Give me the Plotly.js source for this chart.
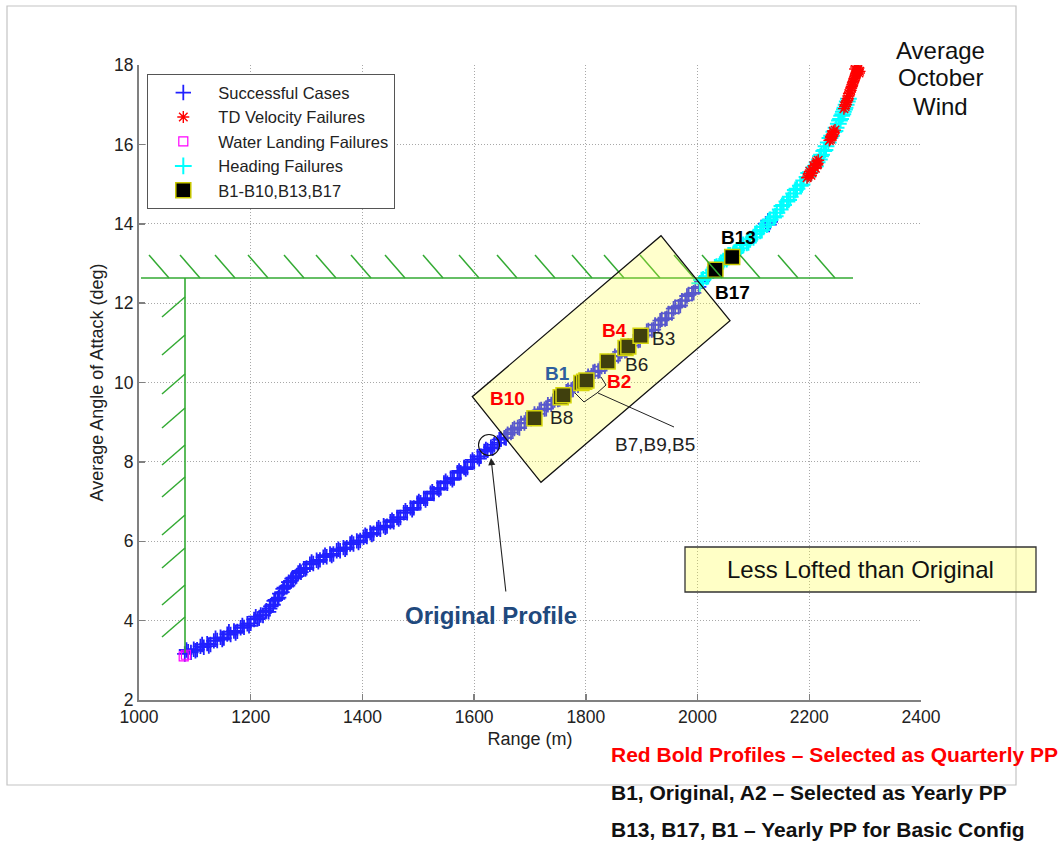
<!DOCTYPE html>
<html><head><meta charset="utf-8">
<script src="https://cdn.plot.ly/plotly-3.0.1.min.js"></script>
<style>html,body{margin:0;padding:0;background:#fff}</style>
</head><body><div id="chart" style="width:1060px;height:841px"></div>
<script>
// ---------- data ----------
const succX=[1082,1088,1093,1098,1104,1110,1116,1122,1128,1134,1140,1146,1152,1158,1164,1170,1176,1182,1188,1194,1200,1206,1212,1218,1222,1228,1232,1236,1240,1244,1248,1252,1256,1260,1264,1268,1272,1276,1280,1285,1290,1295,1300,1306,1312,1318,1324,1330,1336,1342,1348,1354,1360,1366,1372,1378,1384,1390,1396,1402,1408,1414,1420,1426,1432,1438,1444,1450,1456,1462,1468,1474,1480,1486,1492,1498,1504,1510,1516,1522,1528,1534,1540,1546,1552,1558,1564,1570,1576,1582,1588,1594,1600,1606,1612,1618,1624,1630,1636,1642,1648,1654,1660,1666,1672,1678,1684,1690,1696,1702,1708,1714,1720,1726,1732,1738,1744,1750,1756,1762,1768,1774,1780,1786,1792,1798,1804,1810,1816,1822,1828,1834,1840,1846,1852,1858,1864,1870,1876,1882,1888,1894,1900,1906,1912,1918,1924,1930,1936,1942,1948,1954,1960,1966,1972,1978,1984,1990,1996,2002,2008,2122,2126,2130,2128,
 1085,1101,1113,1125,1137,1149,1161,1173,1185,1197,1209,1215,1226,1234,1242,1250,1258,1266,1274,1282,1288,1298,1309,1321,1333,1345,1357,1369,1381,1393,1405,1417,1429,1441,1453,1465,1477,1489,1501,1513,1525,1537,1549,1561,1573,1585,1597,1609,1621,1633,1645,1657,1669,1681,1693,1705,1717,1729,1741,1753,1765,1777,1789,1801,1813,1825,1837,1849,1861,1873,1885,1897,1909,1921,1933,1945,1957,1969,1981,1993];
const succY=[3.16,3.22,3.20,3.28,3.27,3.35,3.33,3.42,3.40,3.49,3.50,3.58,3.56,3.66,3.65,3.74,3.73,3.82,3.83,3.92,3.93,4.03,4.04,4.14,4.13,4.25,4.22,4.36,4.40,4.52,4.55,4.68,4.72,4.83,4.86,4.97,5.00,5.08,5.10,5.20,5.22,5.31,5.33,5.42,5.44,5.52,5.53,5.60,5.61,5.68,5.68,5.76,5.76,5.84,5.84,5.93,5.93,6.01,6.02,6.10,6.12,6.21,6.20,6.30,6.30,6.39,6.38,6.49,6.49,6.60,6.60,6.72,6.72,6.84,6.84,6.96,6.97,7.08,7.08,7.21,7.20,7.34,7.34,7.47,7.46,7.59,7.59,7.73,7.73,7.86,7.86,8.00,8.00,8.13,8.14,8.26,8.29,8.37,8.43,8.48,8.57,8.61,8.70,8.74,8.84,8.87,8.97,8.98,9.09,9.09,9.21,9.21,9.32,9.33,9.44,9.45,9.56,9.57,9.68,9.69,9.80,9.81,9.92,9.93,10.04,10.05,10.16,10.17,10.28,10.29,10.40,10.41,10.53,10.54,10.66,10.67,10.79,10.80,10.92,10.93,11.05,11.06,11.18,11.19,11.31,11.32,11.45,11.46,11.59,11.60,11.74,11.75,11.90,11.91,12.06,12.07,12.22,12.24,12.38,12.41,12.55,14.00,14.08,14.05,13.98,
 3.26,3.24,3.40,3.36,3.56,3.52,3.72,3.69,3.88,3.87,4.10,4.06,4.22,4.30,4.50,4.58,4.80,4.88,5.06,5.12,5.25,5.30,5.48,5.48,5.65,5.64,5.80,5.80,5.97,5.97,6.15,6.17,6.34,6.35,6.53,6.56,6.77,6.79,7.00,7.04,7.25,7.30,7.51,7.55,7.77,7.82,8.05,8.08,8.31,8.34,8.56,8.60,8.81,8.85,9.06,9.10,9.30,9.34,9.53,9.58,9.77,9.82,10.01,10.06,10.26,10.30,10.51,10.55,10.77,10.81,11.03,11.07,11.29,11.33,11.56,11.62,11.86,11.94,12.18,12.26];

const headX=[2004,2010,2016,2022,2028,2034,2040,2046,2052,2058,2064,2070,2076,2082,2088,2094,2100,2106,2112,2118,2124,2130,2136,2142,2148,2154,2160,2166,2172,2178,2184,2190,2196,2202,2208,2214,2218,2222,2226,2230,2234,2240,2244,2248,2252,2256,2258,2261,2264,2266,2268,2270,
 2007,2019,2031,2043,2055,2067,2079,2091,2103,2115,2127,2139,2151,2163,2175,2187,2199,2211,2220,2228,2237,2246,2254,2260,2263];
const headY=[12.50,12.60,12.66,12.76,12.82,12.92,12.97,13.06,13.11,13.20,13.24,13.33,13.38,13.47,13.52,13.61,13.66,13.76,13.82,13.92,13.98,14.10,14.16,14.28,14.36,14.47,14.56,14.68,14.76,14.88,14.96,15.09,15.18,15.30,15.42,15.55,15.62,15.74,15.83,15.95,16.05,16.22,16.32,16.42,16.52,16.64,16.72,16.82,16.92,17.00,17.08,17.15,
 12.58,12.68,12.90,12.98,13.20,13.26,13.46,13.53,13.74,13.84,14.06,14.19,14.45,14.60,14.85,14.99,15.28,15.45,15.70,15.86,16.16,16.34,16.60,16.76,16.88];

const tdX=[2196,2200,2203,2206,2209,2212,2214,2236,2239,2242,2244,2262,2265,2268,2270,2273,2275,2277,2279,2281,2283,2285,2287,2282,2289,
 2198,2201,2205,2208,2211,2213,2215,2216,2238,2240,2241,2243,2246,2264,2266,2269,2271,2274,2276,2278,2280,2282,2284,2286,2288,2284,2290];
const tdY=[15.16,15.26,15.22,15.36,15.42,15.50,15.48,16.10,16.18,16.25,16.30,16.90,17.00,17.10,17.22,17.32,17.42,17.50,17.58,17.66,17.74,17.82,17.88,17.90,17.80,
 15.20,15.32,15.28,15.46,15.40,15.56,15.52,15.60,16.13,16.24,16.20,16.33,16.36,16.95,17.06,17.15,17.28,17.36,17.46,17.55,17.62,17.70,17.78,17.86,17.92,17.95,17.84];

const waterX=[1080,1084];
const waterY=[3.10,3.14];

const bNames=["B10","B8","B1","B7","B9","B5","B2","B6","B4","B3","B17","B13"];
const bX=[1708,1755,1760,1792,1797,1801,1839,1871,1876,1898,2032,2062];
const bY=[9.10,9.63,9.68,9.99,10.02,10.05,10.53,10.87,10.91,11.18,12.84,13.16];

const xTicks=[1000,1200,1400,1600,1800,2000,2200,2400];
const yTicks=[2,4,6,8,10,12,14,16,18];

// ---------- geometry helpers (pixel -> axis units) ----------
const L=139,R=921,T=65,B=700,X0=1000,X1=2400,Y0=2,Y1=18;
const px2x=p=>X0+(p-L)*(X1-X0)/(R-L);
const px2y=p=>Y0+(B-p)*(Y1-Y0)/(B-T);
const pxX=p=>(p-L)/(R-L);       // paper x
const pxY=p=>(B-p)/(B-T);       // paper y
const FONT="Liberation Sans, Arial, Helvetica, sans-serif";
const GREEN="#33aa33";

const traces=[
 {type:'scatter',mode:'markers',name:'Successful Cases',x:succX,y:succY,legendrank:1,
  marker:{symbol:'cross-thin-open',size:11,color:'#2020ff',line:{color:'#2020ff',width:1.8}}},
 {type:'scatter',mode:'markers',name:'Heading Failures',x:headX,y:headY,legendrank:4,
  marker:{symbol:'cross-thin-open',size:12,color:'#00ffff',line:{color:'#00f0f0',width:2}}},
 {type:'scatter',mode:'markers',name:'TD Velocity Failures',x:tdX,y:tdY,legendrank:2,
  marker:{symbol:'asterisk-open',size:10,color:'#ff0000',line:{color:'#ff0000',width:1.4}}},
 {type:'scatter',mode:'markers',name:'Water Landing Failures',x:waterX,y:waterY,legendrank:3,
  marker:{symbol:'square-open',size:9,color:'#ff00ff',line:{color:'#ff00ff',width:1.2}}},
 {type:'scatter',mode:'markers',name:'B1-B10,B13,B17',x:bX,y:bY,text:bNames,hoverinfo:'text',legendrank:5,
  marker:{symbol:'square',size:15,color:'#000000',line:{color:'#c8c800',width:1.5}}}
];
const shapes=[];
// outer frame
shapes.push({type:'rect',xref:'paper',yref:'paper',x0:pxX(7),x1:pxX(1016),y0:pxY(785),y1:pxY(6),
  line:{color:'#c4c4c4',width:1.2},fillcolor:'rgba(0,0,0,0)',layer:'below'});
// green constraint lines
const yLim=px2y(278), xLim=px2x(185);
shapes.push({type:'line',x0:px2x(141),x1:px2x(853),y0:yLim,y1:yLim,line:{color:GREEN,width:1.6},layer:'above'});
shapes.push({type:'line',x0:xLim,x1:xLim,y0:px2y(653),y1:yLim,line:{color:GREEN,width:1.6},layer:'above'});
const hatchH=[169,200,235,268,304,336,371,405,443,479,517,555,592,624,660,694,722,760,798,835];
hatchH.forEach(p=>shapes.push({type:'line',x0:px2x(p),y0:yLim,x1:px2x(p-20),y1:px2y(278-23),
  line:{color:GREEN,width:1.5},layer:'above'}));
const hatchV=[297,335,374,408,445,477,515,548,585,617];
hatchV.forEach(p=>shapes.push({type:'line',x0:xLim,y0:px2y(p),x1:px2x(185-23),y1:px2y(p+20),
  line:{color:GREEN,width:1.5},layer:'above'}));
// rotated yellow box
const boxPath=`M ${px2x(661)},${px2y(235.7)} L ${px2x(730)},${px2y(320.7)} L ${px2x(541)},${px2y(482.3)} L ${px2x(472.3)},${px2y(396.7)} Z`;
shapes.push({type:'path',path:boxPath,fillcolor:'#ffff33',opacity:0.25,line:{width:0},layer:'above'});
shapes.push({type:'path',path:boxPath,fillcolor:'rgba(0,0,0,0)',line:{color:'#111',width:1.3},layer:'above'});
// circle on original profile
shapes.push({type:'circle',xsizemode:'pixel',ysizemode:'pixel',xanchor:px2x(489),yanchor:px2y(445),
  x0:-10.5,x1:10.5,y0:-10.5,y1:10.5,line:{color:'#111',width:1.1},fillcolor:'rgba(0,0,0,0)',layer:'above'});
// brace + leader for B7,B9,B5
shapes.push({type:'path',path:`M ${px2x(575)},${px2y(393)} L ${px2x(584)},${px2y(402)} L ${px2x(597)},${px2y(393)} L ${px2x(606)},${px2y(385)} L ${px2x(601)},${px2y(377)}`,
  line:{color:'#222',width:1},fillcolor:'rgba(0,0,0,0)',layer:'above'});
shapes.push({type:'line',x0:px2x(598),y0:px2y(393),x1:px2x(674),y1:px2y(427),line:{color:'#222',width:1},layer:'above'});
// less lofted box
shapes.push({type:'rect',xref:'paper',yref:'paper',x0:pxX(685),x1:pxX(1036),y0:pxY(592),y1:pxY(547),
  fillcolor:'#ffff33',opacity:0.28,line:{width:0},layer:'above'});
shapes.push({type:'rect',xref:'paper',yref:'paper',x0:pxX(685),x1:pxX(1036),y0:pxY(592),y1:pxY(547),
  fillcolor:'rgba(0,0,0,0)',line:{color:'#333',width:1.3},layer:'above'});

function lab(text,px,py,size,color,bold){
  return {text:bold?'<b>'+text+'</b>':text,x:px2x(px),y:px2y(py),xref:'x',yref:'y',showarrow:false,
    font:{family:FONT,size:size,color:color},xanchor:'center',yanchor:'middle'};
}
function ptxt(text,px,py,size,color,anchor){
  return {text:text,xref:'paper',yref:'paper',x:pxX(px),y:pxY(py),showarrow:false,
    font:{family:FONT,size:size,color:color},xanchor:anchor||'center',yanchor:'middle'};
}
const RED='#ff0000', DBLUE='#1f497d';
const annotations=[
 lab('B10',507,398,19,RED,true),
 lab('B8',561,417,19,'#222',false),
 lab('B1',557,373,19,'#2e5f9e',true),
 lab('B2',619,381,19,RED,true),
 lab('B6',636,364,19,'#222',false),
 lab('B4',614,330,19,RED,true),
 lab('B3',663,338,19,'#222',false),
 lab('B13',738,237,19,'#000',true),
 lab('B17',732,292,19,'#000',true),
 lab('B7,B9,B5',655,444,19,'#222',false),
 lab('Original Profile',491,615,24,DBLUE,true),
 {text:'',x:px2x(491),y:px2y(458),xref:'x',yref:'y',showarrow:true,ax:15,ay:135,
   arrowhead:2,arrowsize:1.3,arrowwidth:1.1,arrowcolor:'#222'},
 ptxt('Less Lofted than Original',860,569,24,'#111'),
 ptxt('Average',940,50,24,'#111'),
 ptxt('October',940,78,24,'#111'),
 ptxt('Wind',940,107,24,'#111'),
 ptxt('<b>Red Bold Profiles – Selected as Quarterly PP</b>',609,754,21,RED,'left'),
 ptxt('<b>B1, Original, A2 – Selected as Yearly PP</b>',609,792,21,'#111','left'),
 ptxt('<b>B13, B17, B1 – Yearly PP for Basic Config</b>',609,829,21,'#111','left')
];

const axCommon={showgrid:true,gridcolor:'#a8a8a8',griddash:'1px,2px',gridwidth:1,zeroline:false,
  showline:true,linecolor:'#808080',linewidth:2,ticks:'inside',ticklen:6,tickcolor:'#808080',tickwidth:1.5,
  tickfont:{family:FONT,size:17.5,color:'#222'},mirror:false};
const layout={
  width:1060,height:841,margin:{l:L,r:1060-R,t:T,b:841-B},
  paper_bgcolor:'#fff',plot_bgcolor:'#fff',
  font:{family:FONT,color:'#222'},
  xaxis:Object.assign({},axCommon,{range:[X0,X1],tickvals:xTicks,ticktext:xTicks.map(String),
    title:{text:'Range (m)',font:{family:FONT,size:18,color:'#222'},standoff:6}}),
  yaxis:Object.assign({},axCommon,{range:[Y0,Y1],tickvals:yTicks,ticktext:yTicks.map(String),
    title:{text:'Average Angle of Attack (deg)',font:{family:FONT,size:18,color:'#222'},standoff:6}}),
  showlegend:true,
  legend:{x:pxX(147),y:pxY(74),xanchor:'left',yanchor:'top',bgcolor:'#fff',bordercolor:'#555',borderwidth:1.3,
    font:{family:FONT,size:16.5,color:'#222'},itemwidth:60,tracegroupgap:0},
  shapes:shapes,annotations:annotations
};
Plotly.newPlot('chart',traces,layout,{displayModeBar:false,staticPlot:true});
</script></body></html>
